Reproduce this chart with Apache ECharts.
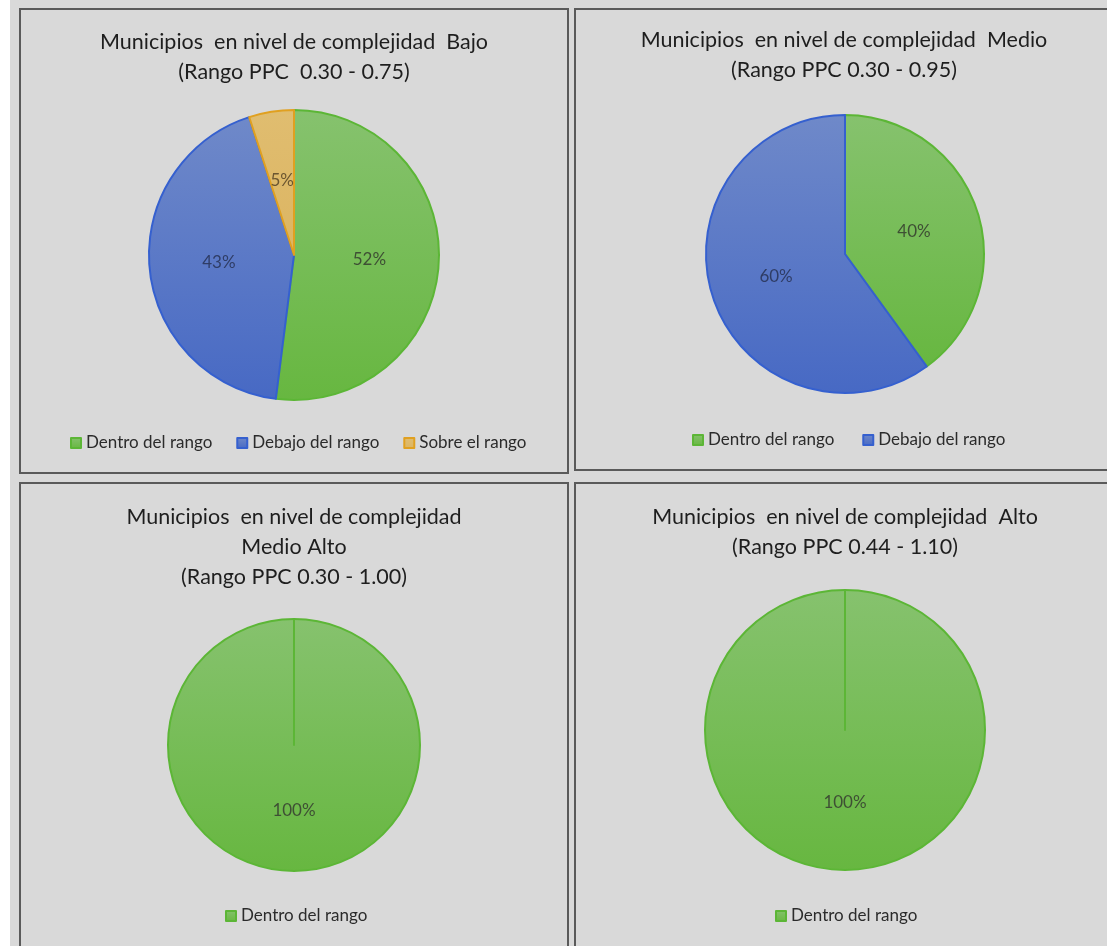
<!DOCTYPE html>
<html>
<head>
<meta charset="utf-8">
<script src="https://cdn.jsdelivr.net/npm/echarts@6/dist/echarts.min.js"></script>
<style>
  html, body { margin: 0; padding: 0; background: #ffffff; }
  #chart { width: 1107px; height: 946px; }
</style>
</head>
<body>
<div id="chart"></div>
<script>
// ---------- data ----------
const categories = ['Dentro del rango', 'Debajo del rango', 'Sobre el rango'];

const titleBajo = 'Municipios  en nivel de complejidad  Bajo\n(Rango PPC  0.30 - 0.75)';
const titleMedio = 'Municipios  en nivel de complejidad  Medio\n(Rango PPC 0.30 - 0.95)';
const titleMedioAlto = 'Municipios  en nivel de complejidad\nMedio Alto\n(Rango PPC 0.30 - 1.00)';
const titleAlto = 'Municipios  en nivel de complejidad  Alto\n(Rango PPC 0.44 - 1.10)';

const bajoValues = [52, 43, 5];       // Dentro, Debajo, Sobre (%)
const medioValues = [40, 60];         // Dentro, Debajo (%)
const medioAltoValues = [100];        // Dentro (%)
const altoValues = [100];             // Dentro (%)

// ---------- styles ----------
const FONT = 'Lato, "Open Sans", sans-serif';
const fills = [
  ['#86c26e', '#67b740'],
  ['#6f89c9', '#4769c4'],
  ['#e0bd70', '#dcb562']
];
const borders = ['#5cb636', '#3560cf', '#e0a020'];
const labelColors = ['#3e4f34', '#2f3d66', '#6b5631'];

function grad(i) {
  return new echarts.graphic.LinearGradient(0, 0, 0, 1, [
    { offset: 0, color: fills[i][0] },
    { offset: 1, color: fills[i][1] }
  ]);
}

function buildData(values, addSeam) {
  const d = values.map((v, i) => ({
    value: v,
    name: categories[i],
    itemStyle: { color: grad(i), borderColor: borders[i], borderWidth: 2 },
    label: { color: labelColors[i] }
  }));
  if (addSeam) {
    // zero-width slice that reproduces the radial outline of a single 100% slice
    d.push({
      value: 0, name: '',
      itemStyle: { color: 'transparent', borderColor: borders[0], borderWidth: 2 },
      label: { show: false }, labelLine: { show: false }
    });
  }
  return d;
}

function pieSeries(values, center, radius, addSeam) {
  return {
    type: 'pie',
    center: center,
    radius: radius,
    startAngle: 90,
    clockwise: true,
    silent: true,
    animation: false,
    avoidLabelOverlap: false,
    emphasis: { disabled: true },
    label: {
      show: true,
      position: 'inside',
      formatter: p => p.value + '%',
      fontFamily: FONT,
      fontSize: 17
    },
    labelLine: { show: false },
    data: buildData(values, addSeam)
  };
}

// measure text for centring legends
const ctx = document.createElement('canvas').getContext('2d');
const LEG_FONT_SIZE = 17;
ctx.font = LEG_FONT_SIZE + 'px ' + FONT;
function legendLeft(names, centerX, gap) {
  let w = 0;
  names.forEach((n, i) => {
    w += 10 + 5 + ctx.measureText(n).width;
    if (i > 0) w += gap;
  });
  return Math.round(centerX - w / 2);
}

function legend(names, centerX, top, gap) {
  return {
    data: names,
    left: legendLeft(names, centerX, gap),
    top: top,
    orient: 'horizontal',
    itemGap: gap,
    itemWidth: 10,
    itemHeight: 10,
    icon: 'rect',
    padding: 0,
    selectedMode: false,
    textStyle: { fontFamily: FONT, fontSize: LEG_FONT_SIZE, color: '#2b2b2b', lineHeight: 18 }
  };
}

function title(text, centerX, top) {
  return {
    text: text,
    left: centerX,
    top: top,
    textAlign: 'center',
    padding: 0,
    textStyle: { fontFamily: FONT, fontSize: 21.5, fontWeight: 'normal', color: '#1e1e1e', lineHeight: 30 }
  };
}

const panelStyle = { fill: '#d9d9d9', stroke: '#5a5a5a', lineWidth: 2 };

const chart = echarts.init(document.getElementById('chart'), null, { renderer: 'canvas' });
chart.setOption({
  backgroundColor: '#d9d9d9',
  animation: false,
  graphic: [
    { type: 'rect', left: 0, top: 0, shape: { x: 0, y: 0, width: 10, height: 946 }, style: { fill: '#ffffff' }, z: -10, silent: true },
    { type: 'rect', shape: { x: 20, y: 9, width: 548, height: 464 }, style: panelStyle, z: -5, silent: true },
    { type: 'rect', shape: { x: 575, y: 9, width: 545, height: 461 }, style: panelStyle, z: -5, silent: true },
    { type: 'rect', shape: { x: 20, y: 483, width: 548, height: 475 }, style: panelStyle, z: -5, silent: true },
    { type: 'rect', shape: { x: 575, y: 483, width: 545, height: 475 }, style: panelStyle, z: -5, silent: true }
  ],
  title: [
    title(titleBajo, 294, 27),
    title(titleMedio, 844, 25),
    title(titleMedioAlto, 294, 502),
    title(titleAlto, 845, 502)
  ],
  legend: [
    legend(categories.slice(0, 3), 297, 434, 24),
    legend(categories.slice(0, 2), 848, 431, 28),
    legend(categories.slice(0, 1), 296, 907, 20),
    legend(categories.slice(0, 1), 846, 907, 20)
  ],
  series: [
    pieSeries(bajoValues, [294, 255], 145, false),
    pieSeries(medioValues, [845, 254], 139, false),
    pieSeries(medioAltoValues, [294, 745], 126, true),
    pieSeries(altoValues, [845, 730], 140, true)
  ]
});
</script>
</body>
</html>
